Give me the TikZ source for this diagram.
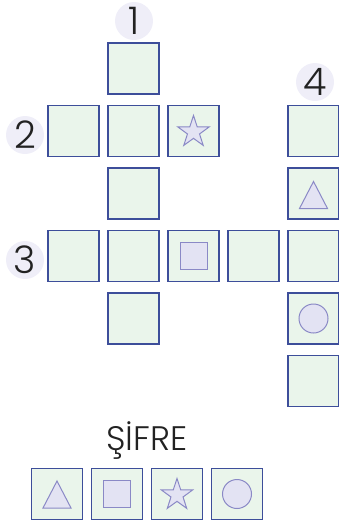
\documentclass[tikz,border=0pt]{standalone}
\usepackage{fontspec}
\setmainfont{Poppins}[UprightFont=* Light]
\usetikzlibrary{shapes.geometric}
\definecolor{cellfill}{HTML}{EAF5EB}
\definecolor{celledge}{HTML}{3D4E9A}
\definecolor{symfill}{HTML}{E3E3F3}
\definecolor{symedge}{HTML}{8A89C6}
\definecolor{dotfill}{HTML}{EFEEF8}
\definecolor{numtext}{HTML}{222222}
\begin{document}
\begin{tikzpicture}[x=1pt,y=-1pt,
  cell/.style={draw=celledge, fill=cellfill, line width=1.3pt, minimum size=51pt, inner sep=0pt},
  numdot/.style={circle, fill=dotfill, minimum size=38pt, inner sep=0pt, text=numtext, font=\fontsize{38}{38}\selectfont},
  sym/.style={draw=symedge, fill=symfill, line width=1pt, inner sep=0pt}]
\useasboundingbox (0,0) rectangle (338,520);

% Numbers
\node[numdot] (n1) at (134,21) {1};
\node[numdot] (n2) at (25,135) {2};
\node[numdot] (n3) at (25,260) {3};
\node[numdot] (n4) at (315,82) {4};

% Puzzle cells
\node[cell] (r1c2) at (133.5,68.5) {};
\node[cell] (r2c1) at (73.5,131) {};
\node[cell] (r2c2) at (133.5,131) {};
\node[cell] (r2c3) at (193.5,131) {};
\node[cell] (r2c5) at (313.5,131) {};
\node[cell] (r3c2) at (133.5,193.5) {};
\node[cell] (r3c5) at (313.5,193.5) {};
\node[cell] (r4c1) at (73.5,256) {};
\node[cell] (r4c2) at (133.5,256) {};
\node[cell] (r4c3) at (193.5,256) {};
\node[cell] (r4c4) at (253.5,256) {};
\node[cell] (r4c5) at (313.5,256) {};
\node[cell] (r5c2) at (133.5,318.5) {};
\node[cell] (r5c5) at (313.5,318.5) {};
\node[cell] (r6c5) at (313.5,381) {};

% Symbols in the puzzle
\node[sym, star, star points=5, star point ratio=2.6, minimum size=33pt] (pstar) at ([yshift=-1pt]r2c3) {};
\draw[sym, shift={(r3c5)}] (-14,15) -- (14,15) -- (0,-12) -- cycle;
\node[sym, rectangle, minimum size=27pt] (psquare) at (r4c3) {};
\node[sym, circle, minimum size=29pt] (pcircle) at (r5c5) {};

% Key
\node[anchor=base, text=numtext, font=\fontsize{34}{34}\selectfont] (title) at (147,450) {ŞİFRE};
\node[cell] (k1) at (57,494) {};
\node[cell] (k2) at (117,494) {};
\node[cell] (k3) at (177,494) {};
\node[cell] (k4) at (237,494) {};
\draw[sym, shift={(k1)}] (-14,14) -- (14,14) -- (0,-13) -- cycle;
\node[sym, rectangle, minimum size=27pt] (ksquare) at (k2) {};
\node[sym, star, star points=5, star point ratio=2.6, minimum size=33pt] (kstar) at ([yshift=-1pt]k3) {};
\node[sym, circle, minimum size=29pt] (kcircle) at (k4) {};

\end{tikzpicture}
\end{document}
